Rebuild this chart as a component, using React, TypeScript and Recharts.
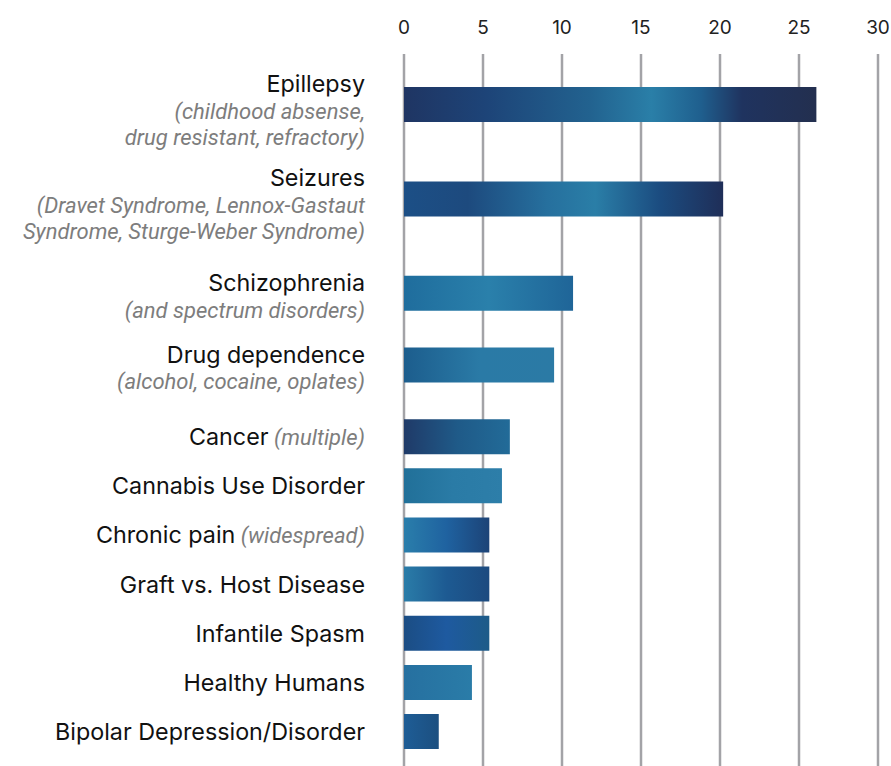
import React from 'react';
import { BarChart, Bar, XAxis, YAxis, CartesianGrid, Cell } from 'recharts';

// ---- data ----
const conditions = [
  'Epillepsy',
  'Seizures',
  'Schizophrenia',
  'Drug dependence',
  'Cancer',
  'Cannabis Use Disorder',
  'Chronic pain',
  'Graft vs. Host Disease',
  'Infantile Spasm',
  'Healthy Humans',
  'Bipolar Depression/Disorder',
];
const inlineNotes = ['', '', '', '', '(multiple)', '', '(widespread)', '', '', '', ''];
const subNotes: string[][] = [
  ['(childhood absense,', 'drug resistant, refractory)'],
  ['(Dravet Syndrome, Lennox-Gastaut', 'Syndrome, Sturge-Weber Syndrome)'],
  ['(and spectrum disorders)'],
  ['(alcohol, cocaine, oplates)'],
  [], [], [], [], [], [], [],
];
const studies = [26.1, 20.2, 10.7, 9.5, 6.7, 6.2, 5.4, 5.4, 5.4, 4.3, 2.2];
const xTicks = [0, 5, 10, 15, 20, 25, 30];

// ---- layout derived from label line counts ----
const EXTRA_LINE = 0.46;
let acc = 0;
const rows = conditions.map((name, i) => {
  const lines = 1 + subNotes[i].length;
  const pos = acc + 0.5;
  acc += 1 + (lines - 1) * EXTRA_LINE;
  return { name, value: studies[i], pos, idx: i };
});
const positions = rows.map((r) => r.pos);
const yDomain = [-0.53, acc + 0.2];

const gradients: [number, string][][] = [
  [[0, '#1f3563'], [0.2, '#1d4478'], [0.45, '#22628f'], [0.6, '#2a7fa8'], [0.72, '#1f5f8e'], [0.82, '#1f335f'], [1, '#232f4f']],
  [[0, '#1c4f86'], [0.2, '#1d4a7e'], [0.45, '#26709e'], [0.6, '#2a7ea7'], [0.8, '#1b4c80'], [1, '#1f2e58']],
  [[0, '#1f6d9d'], [0.5, '#2a80ab'], [1, '#1f6598']],
  [[0, '#1c5d8d'], [0.5, '#2a7aa6'], [1, '#2b7aa5']],
  [[0, '#1f3a68'], [0.5, '#1f5a88'], [1, '#226b98']],
  [[0, '#217099'], [0.5, '#2a7ba6'], [1, '#2d7ea9']],
  [[0, '#2a7eab'], [0.5, '#1f62a0'], [1, '#1c4377']],
  [[0, '#2a7ca8'], [0.5, '#1d5a92'], [1, '#1c4a7f']],
  [[0, '#1b4d84'], [0.5, '#1e5aa0'], [1, '#1d5b88']],
  [[0, '#2670a0'], [1, '#2a7ca8']],
  [[0, '#1e5d96'], [1, '#1c4f80']],
];

const MAIN_FONT = 'Inter, Roboto, sans-serif';
const SUB_FONT = 'Roboto, sans-serif';

const LabelTick = (props: any) => {
  const { x, y, payload, index } = props;
  let i = typeof index === 'number' ? index : -1;
  if (i < 0 || i >= rows.length) {
    let best = 0;
    rows.forEach((r, k) => {
      if (Math.abs(r.pos - payload.value) < Math.abs(rows[best].pos - payload.value)) best = k;
    });
    i = best;
  }
  const subs = subNotes[i];
  const n = 1 + subs.length;
  const mainY = y - (n - 1) * 10.5;
  return (
    <g>
      <text x={x} y={mainY} dy="0.36em" textAnchor="end" fontFamily={MAIN_FONT} fontSize={23.3} fill="#111">
        {conditions[i]}
        {inlineNotes[i] ? (
          <tspan fontFamily={SUB_FONT} fontStyle="italic" fontSize={22} fill="#7d7d7d">{' ' + inlineNotes[i]}</tspan>
        ) : null}
      </text>
      {subs.map((s, k) => (
        <text key={k} x={x} y={mainY + 27 + k * 26} dy="0.36em" textAnchor="end" fontFamily={SUB_FONT} fontStyle="italic" fontSize={22} fill="#7d7d7d">
          {s}
        </text>
      ))}
    </g>
  );
};

export default function App() {
  return (
    <div style={{ position: 'absolute', left: 0, top: 0, width: 891, height: 766, background: '#fff' }}>
      <BarChart
        width={891}
        height={766}
        data={rows}
        layout="vertical"
        margin={{ top: 0, right: 13, bottom: 0, left: 0 }}
      >
        <defs>
          {gradients.map((g, i) => (
            <linearGradient key={i} id={`bg${i}`} x1="0" y1="0" x2="1" y2="0">
              {g.map(([o, c], k) => (
                <stop key={k} offset={o} stopColor={c} />
              ))}
            </linearGradient>
          ))}
        </defs>
        <CartesianGrid horizontal={false} vertical={true} stroke="#a3a3a7" strokeWidth={2.5} />
        <XAxis
          type="number"
          orientation="top"
          domain={[0, 30]}
          ticks={xTicks}
          interval={0}
          height={54}
          axisLine={false}
          tickLine={false}
          tickSize={0}
          tickMargin={20}
          tick={{ fontFamily: MAIN_FONT, fontSize: 19, fill: '#222' }}
        />
        <YAxis
          type="number"
          dataKey="pos"
          domain={yDomain}
          ticks={positions}
          interval={0}
          width={404}
          axisLine={false}
          tickLine={false}
          tickSize={0}
          tickMargin={39}
          allowDataOverflow
          tick={<LabelTick />}
        />
        <Bar dataKey="value" barSize={35} isAnimationActive={false}>
          {rows.map((r, i) => (
            <Cell key={i} fill={`url(#bg${i})`} />
          ))}
        </Bar>
      </BarChart>
    </div>
  );
}
